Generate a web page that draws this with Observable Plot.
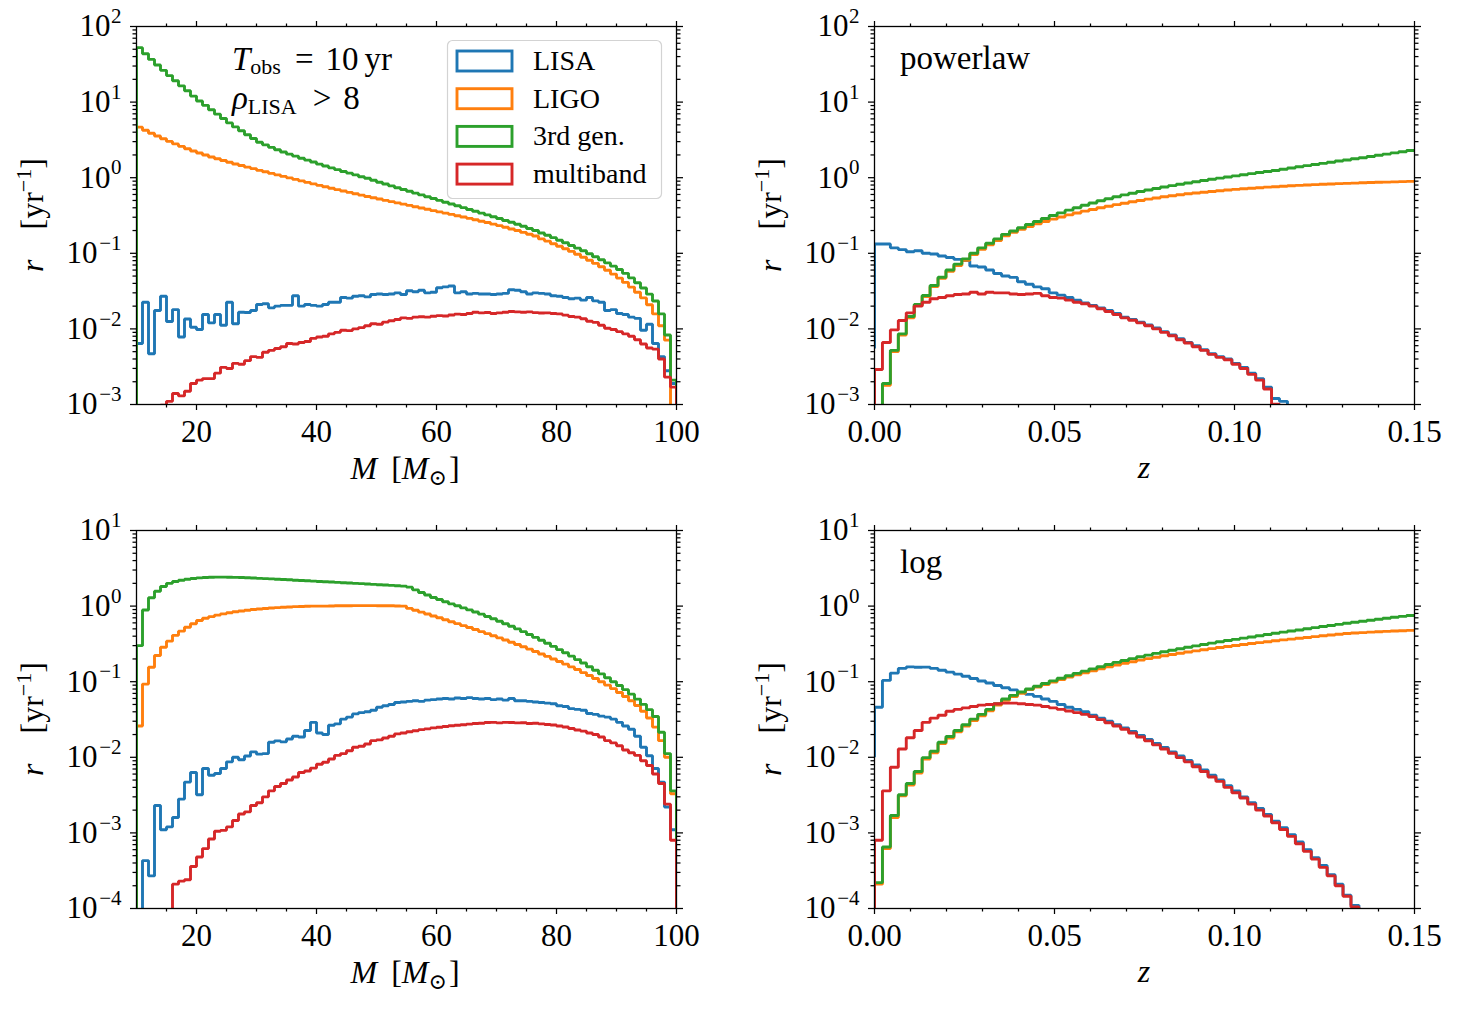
<!DOCTYPE html>
<html><head><meta charset="utf-8">
<script src="https://cdn.jsdelivr.net/npm/d3@7"></script>
<script src="https://cdn.jsdelivr.net/npm/@observablehq/plot@0.6"></script>
<style>
body{margin:0;background:#fff;}
#wrap{position:relative;width:1458px;height:1010px;background:#fff;overflow:hidden;font-family:'Liberation Serif','DejaVu Serif',serif;}
.panel{position:absolute;}
#overlay{position:absolute;left:0;top:0;pointer-events:none;}
</style></head><body><div id="wrap"></div>
<script>
const seriesNames = ["LISA", "LIGO", "3rd gen.", "multiband"];
const seriesColors = ["#1f77b4", "#ff7f0e", "#2ca02c", "#d62728"];

const massRange = [10, 100];
const massBinCount = 90;
const zRange = [0, 0.15];
const zBinCount = 68;

const yTicksTop = [1e-3, 1e-2, 1e-1, 1, 10, 100];
const yExpTop = ["−3", "−2", "−1", "0", "1", "2"];
const yTicksBottom = [1e-4, 1e-3, 1e-2, 1e-1, 1, 10];
const yExpBottom = ["−4", "−3", "−2", "−1", "0", "1"];
const xTicksMass = [20, 40, 60, 80, 100];
const xMinorMass = [15, 25, 30, 35, 45, 50, 55, 65, 70, 75, 85, 90, 95];
const xTicksZ = [0, 0.05, 0.10, 0.15];
const xMinorZ = [0.01, 0.02, 0.03, 0.04, 0.06, 0.07, 0.08, 0.09, 0.11, 0.12, 0.13, 0.14];

// ---- top-left: mass, powerlaw ----
const tlLISA = [0.0064,0.0225,0.0047,0.0175,0.027,0.0125,0.018,0.0078,0.0135,0.0105,
0.0098,0.0155,0.012,0.0155,0.0112,0.0225,0.0117,0.0166,0.0165,0.0175,
0.021,0.0215,0.019,0.020,0.0205,0.0205,0.0275,0.020,0.021,0.0205,
0.020,0.021,0.0225,0.0225,0.026,0.0255,0.027,0.0275,0.0265,0.0285,
0.029,0.0285,0.029,0.030,0.0285,0.032,0.031,0.0325,0.030,0.0305,
0.035,0.036,0.037,0.030,0.031,0.029,0.0295,0.029,0.029,0.0285,
0.029,0.0295,0.033,0.0325,0.031,0.029,0.030,0.0295,0.029,0.0275,
0.027,0.026,0.025,0.0255,0.024,0.026,0.0235,0.0225,0.0175,0.018,
0.016,0.0155,0.0143,0.0138,0.0096,0.0115,0.0064,0.0043,0.0028,0.0019];
const tlLIGO = [4.66,4.25,3.88,3.56,3.27,3.02,2.80,2.60,2.42,2.26,
2.12,2.00,1.88,1.78,1.69,1.60,1.52,1.45,1.38,1.32,
1.25,1.20,1.14,1.09,1.04,0.995,0.951,0.908,0.867,0.828,
0.792,0.759,0.726,0.695,0.667,0.640,0.614,0.589,0.565,0.543,
0.522,0.502,0.483,0.465,0.447,0.430,0.413,0.397,0.382,0.367,
0.353,0.340,0.327,0.314,0.302,0.290,0.278,0.266,0.255,0.243,
0.232,0.221,0.210,0.200,0.189,0.179,0.169,0.155,0.145,0.134,
0.124,0.115,0.106,0.097,0.0887,0.0809,0.0735,0.0664,0.0596,0.0531,
0.0470,0.0412,0.0357,0.0305,0.0257,0.0209,0.0158,0.0110,0.0071,0.0008];
const tl3G = [52.5,43.7,36.7,30.9,26.3,22.4,19.2,16.4,14.1,12.0,
10.35,9.06,7.93,6.93,6.07,5.31,4.70,4.17,3.70,3.30,
2.95,2.72,2.52,2.34,2.19,2.05,1.93,1.81,1.71,1.61,
1.51,1.43,1.35,1.28,1.21,1.15,1.09,1.03,0.982,0.925,
0.871,0.824,0.780,0.738,0.698,0.661,0.625,0.592,0.560,0.530,
0.501,0.474,0.449,0.425,0.402,0.380,0.360,0.340,0.322,0.305,
0.288,0.272,0.257,0.242,0.228,0.213,0.200,0.186,0.173,0.161,
0.149,0.138,0.127,0.117,0.108,0.0986,0.0902,0.0822,0.0746,0.0676,
0.0610,0.0543,0.0473,0.0407,0.0347,0.0288,0.0234,0.0158,0.0083,0.0021];
const tlMulti = [0.0003,0.0004,0.0006,0.0009,0.00098,0.0011,0.0014,0.0013,0.0015,0.0019,
0.0021,0.0022,0.0022,0.0026,0.0031,0.0030,0.0035,0.0034,0.0038,0.0043,
0.0042,0.0049,0.0052,0.0055,0.0058,0.0064,0.0063,0.0066,0.0068,0.0075,
0.0078,0.0080,0.0086,0.0090,0.0096,0.0095,0.0100,0.0104,0.0110,0.0117,
0.0115,0.0123,0.0128,0.0133,0.0140,0.0138,0.0143,0.0145,0.0143,0.0147,
0.0150,0.0148,0.0153,0.0157,0.0155,0.0160,0.0166,0.0163,0.0165,0.0160,
0.0163,0.0166,0.0170,0.0168,0.0166,0.0168,0.0164,0.0162,0.0163,0.0160,
0.0158,0.0152,0.0146,0.0143,0.0136,0.0126,0.0122,0.0112,0.0102,0.0098,
0.0092,0.0086,0.0080,0.0072,0.0063,0.0056,0.0054,0.0040,0.0023,0.0017];

// ---- top-right: redshift, powerlaw ----
const trLISA = [0.133,0.133,0.118,0.112,0.105,0.108,0.100,0.098,0.092,0.088,
0.083,0.080,0.068,0.066,0.060,0.054,0.050,0.048,0.042,0.039,
0.036,0.034,0.030,0.028,0.026,0.024,0.022,0.0205,0.019,0.0175,
0.016,0.0143,0.0133,0.0123,0.0113,0.0103,0.0092,0.0083,0.0074,0.0066,
0.0060,0.0053,0.0047,0.0043,0.0040,0.0035,0.0031,0.0026,0.0022,0.0017,
0.0012,0.0011,0.0007,0.0005,0.00035,0.00025,0.00018,0.00012,0.00008,0.00005,
0.00003,0.00002,0.00001,0.00001,0.00001,0.00001,0.00001,0.00001];
const trLIGO = [0.0004,0.0018,0.005,0.0083,0.014,0.0203,0.0268,0.0362,0.0466,0.058,
0.069,0.081,0.096,0.113,0.13,0.148,0.17,0.19,0.208,0.226,
0.245,0.264,0.283,0.302,0.322,0.342,0.361,0.38,0.40,0.42,
0.44,0.46,0.48,0.50,0.52,0.54,0.56,0.578,0.595,0.612,
0.628,0.643,0.658,0.672,0.686,0.70,0.713,0.726,0.738,0.750,
0.760,0.771,0.782,0.791,0.8,0.809,0.818,0.826,0.834,0.841,
0.849,0.857,0.863,0.869,0.875,0.881,0.887,0.895];
const tr3G = [0.0004,0.0019,0.0052,0.0086,0.0146,0.021,0.0277,0.0375,0.0483,0.060,
0.072,0.0845,0.100,0.118,0.136,0.155,0.178,0.197,0.218,0.240,
0.263,0.288,0.316,0.343,0.372,0.401,0.432,0.462,0.495,0.527,
0.560,0.592,0.624,0.656,0.689,0.721,0.753,0.785,0.818,0.851,
0.885,0.918,0.953,0.986,1.02,1.057,1.094,1.132,1.169,1.208,
1.247,1.294,1.343,1.393,1.445,1.496,1.549,1.603,1.66,1.718,
1.778,1.84,1.905,1.977,2.051,2.128,2.208,2.291];
const trMulti = [0.0029,0.0066,0.0097,0.0129,0.0163,0.020,0.0225,0.025,0.026,0.0275,
0.0285,0.029,0.0305,0.029,0.0305,0.030,0.030,0.029,0.0285,0.029,
0.0295,0.0275,0.026,0.0255,0.024,0.0225,0.0215,0.020,0.0185,0.017,
0.0155,0.014,0.013,0.012,0.011,0.010,0.009,0.0081,0.0072,0.0065,
0.0058,0.0052,0.0046,0.0042,0.0039,0.0034,0.0030,0.0025,0.0021,0.0016,
0.00101,0.0007,0.0005,0.00035,0.00025,0.00018,0.00012,0.00008,0.00005,0.00003,
0.00002,0.00001,0.00001,0.00001,0.00001,0.00001,0.00001,0.00001];

// ---- bottom-left: mass, log ----
const blLISA = [0.00002,0.00043,0.00027,0.0023,0.0011,0.0012,0.0016,0.0028,0.0047,0.0063,
0.0032,0.0071,0.0058,0.0061,0.0071,0.0087,0.010,0.0093,0.0104,0.0118,
0.011,0.0112,0.0158,0.0165,0.0160,0.0175,0.0190,0.0186,0.0226,0.029,
0.021,0.020,0.0265,0.0277,0.032,0.034,0.0375,0.039,0.040,0.042,
0.046,0.048,0.050,0.053,0.054,0.055,0.056,0.055,0.057,0.058,
0.059,0.060,0.059,0.061,0.060,0.0615,0.060,0.059,0.060,0.058,
0.059,0.057,0.060,0.056,0.056,0.055,0.054,0.053,0.052,0.051,
0.048,0.047,0.044,0.043,0.042,0.038,0.037,0.035,0.034,0.032,
0.029,0.026,0.0235,0.019,0.0136,0.0105,0.0071,0.0047,0.0022,0.0011];
const blLIGO = [0.026,0.093,0.155,0.222,0.286,0.344,0.41,0.466,0.526,0.583,
0.645,0.69,0.725,0.76,0.79,0.815,0.84,0.86,0.88,0.90,
0.915,0.93,0.945,0.955,0.965,0.975,0.985,0.99,0.995,1.0,
1.0,1.0,1.005,1.01,1.01,1.01,1.015,1.015,1.015,1.015,
1.01,1.01,1.01,1.005,1.0,0.933,0.881,0.832,0.785,0.741,
0.700,0.661,0.622,0.586,0.552,0.520,0.490,0.460,0.433,0.406,
0.380,0.356,0.333,0.310,0.290,0.270,0.251,0.233,0.216,0.200,
0.185,0.171,0.157,0.145,0.132,0.121,0.110,0.100,0.0902,0.0809,
0.0721,0.0638,0.0560,0.0484,0.0407,0.0331,0.0251,0.0166,0.0100,0.0033];
const bl3G = [0.30,0.89,1.29,1.57,1.82,2.0,2.12,2.2,2.27,2.32,
2.36,2.39,2.41,2.42,2.42,2.41,2.40,2.39,2.37,2.35,
2.33,2.31,2.29,2.27,2.25,2.23,2.20,2.18,2.16,2.14,
2.12,2.10,2.08,2.06,2.04,2.02,2.0,1.98,1.96,1.94,
1.92,1.90,1.88,1.86,1.84,1.78,1.64,1.51,1.40,1.30,
1.22,1.14,1.07,1.01,0.946,0.891,0.836,0.782,0.730,0.679,
0.631,0.585,0.541,0.499,0.459,0.422,0.386,0.353,0.322,0.293,
0.266,0.241,0.218,0.196,0.177,0.158,0.142,0.127,0.113,0.100,
0.0891,0.0785,0.0684,0.0589,0.0501,0.0427,0.0347,0.0214,0.0112,0.0036];
const blMulti = [0.00002,0.00003,0.00004,0.00005,0.00006,0.00008,0.00021,0.00023,0.00024,0.00036,
0.00048,0.00062,0.00083,0.00105,0.00108,0.0012,0.00146,0.00178,0.0019,0.0023,
0.0025,0.0030,0.0036,0.0041,0.0045,0.0050,0.0055,0.0063,0.0066,0.0072,
0.0081,0.0086,0.0095,0.0106,0.0112,0.0122,0.0136,0.0140,0.0150,0.0166,
0.0170,0.0180,0.0190,0.0204,0.0210,0.0218,0.0225,0.0232,0.0238,0.0245,
0.0250,0.0255,0.0262,0.0265,0.0270,0.0275,0.0280,0.0282,0.0288,0.0290,
0.0285,0.0290,0.0288,0.0285,0.0286,0.0280,0.0282,0.0277,0.0272,0.0268,
0.0260,0.0252,0.0240,0.0230,0.0222,0.0210,0.0200,0.0186,0.0166,0.0155,
0.0142,0.0125,0.0115,0.0106,0.0090,0.0078,0.0060,0.0045,0.0024,0.0008];

// ---- bottom-right: redshift, log ----
const brLISA = [0.046,0.104,0.13,0.150,0.157,0.155,0.156,0.150,0.142,0.134,
0.126,0.118,0.110,0.102,0.096,0.089,0.083,0.078,0.072,0.068,
0.064,0.059,0.055,0.050,0.046,0.043,0.040,0.036,0.033,0.030,
0.027,0.0245,0.022,0.0195,0.0172,0.0152,0.0135,0.0118,0.0104,0.0091,
0.0079,0.0068,0.0058,0.005,0.0042,0.0036,0.003,0.0025,0.0021,0.00175,
0.00143,0.00117,0.00095,0.00076,0.0006,0.00047,0.00037,0.00028,0.00021,0.00015,
0.00011,0.00006,0.00003,0.00002,0.00001,0.00001,0.00001,0.00001];
const brLIGO = [0.00021,0.00062,0.0016,0.0031,0.0043,0.0062,0.0095,0.0115,0.0152,0.018,
0.0217,0.026,0.0307,0.0355,0.0413,0.049,0.0566,0.0634,0.070,0.0785,
0.085,0.092,0.099,0.107,0.115,0.123,0.131,0.139,0.148,0.157,
0.166,0.175,0.184,0.193,0.202,0.211,0.220,0.229,0.238,0.247,
0.256,0.265,0.274,0.283,0.292,0.301,0.310,0.320,0.329,0.338,
0.348,0.357,0.366,0.376,0.385,0.395,0.405,0.414,0.424,0.434,
0.440,0.446,0.452,0.458,0.463,0.468,0.473,0.478];
const br3G = [0.00022,0.00065,0.0017,0.0032,0.0045,0.0065,0.0099,0.012,0.0158,0.0188,
0.0226,0.027,0.032,0.037,0.043,0.051,0.059,0.066,0.073,0.080,
0.087,0.0946,0.1026,0.111,0.1197,0.129,0.138,0.148,0.158,0.169,
0.180,0.191,0.202,0.214,0.225,0.237,0.249,0.261,0.273,0.285,
0.298,0.310,0.324,0.337,0.350,0.363,0.377,0.391,0.406,0.421,
0.437,0.452,0.468,0.484,0.501,0.519,0.537,0.555,0.573,0.592,
0.611,0.631,0.650,0.670,0.690,0.711,0.731,0.752];
const brMulti = [0.0008,0.0036,0.0074,0.0129,0.0181,0.0226,0.029,0.033,0.036,0.0407,
0.043,0.045,0.047,0.049,0.050,0.051,0.052,0.052,0.051,0.050,
0.049,0.047,0.045,0.043,0.041,0.039,0.037,0.0345,0.0315,0.0287,
0.026,0.0235,0.021,0.0186,0.0165,0.0146,0.0129,0.0113,0.0099,0.0087,
0.0075,0.0065,0.0055,0.0048,0.004,0.0034,0.0029,0.0024,0.002,0.00167,
0.00136,0.00111,0.0009,0.00072,0.00057,0.00045,0.00035,0.00027,0.0002,0.000145,
0.000105,0.00005,0.00002,0.00001,0.00001,0.00001,0.00001,0.00001];

// starting level of each outline at the left edge (null = from below the axis)
const trStarts = [0.0055, null, null, null];
const brStarts = [0.01, null, null, null];

// ---------- helpers ----------
const FONT = "'Liberation Serif','DejaVu Serif',serif";
function binEdges(range, n) { return d3.range(n + 1).map(i => range[0] + (range[1] - range[0]) * i / n); }
function stepPoints(edges, vals, start, dropEnd) {
  const pts = [{x: edges[0], y: start == null ? 1e-7 : start}];
  vals.forEach((v, i) => pts.push({x: edges[i], y: v}));
  pts.push({x: edges[vals.length], y: vals[vals.length - 1]});
  if (dropEnd) pts.push({x: edges[vals.length], y: 1e-7});
  return pts;
}
function minorLog(domain) {
  const out = [];
  const k0 = Math.round(Math.log10(domain[0])), k1 = Math.round(Math.log10(domain[1]));
  for (let k = k0; k < k1; k++) for (let m = 2; m <= 9; m++) out.push(m * Math.pow(10, k));
  return out;
}
const wrap = document.getElementById("wrap");

function panel(o) {
  const edges = binEdges(o.xDomain, o.bins);
  const labels = o.yTicks.map((v, i) => ({v, e: o.yExp[i], neg: o.yExp[i].startsWith("−")}));
  const marks = [];
  o.series.forEach((vals, i) => {
    marks.push(Plot.line(stepPoints(edges, vals, o.starts[i], o.dropEnd), {
      x: "x", y: "y", curve: "step-after", stroke: seriesColors[i], strokeWidth: 2.9,
      strokeLinejoin: "miter", strokeLinecap: "butt", clip: true
    }));
  });
  const tk = {label: null, strokeWidth: 1.25};
  marks.push(
    Plot.frame({stroke: "black", strokeWidth: 1.3}),
    Plot.axisX({...tk, ticks: o.xTicks, tickSize: 6, tickPadding: 9, tickFormat: o.xFmt, fontSize: 31}),
    Plot.axisX({...tk, anchor: "top", ticks: o.xTicks, tickSize: 6, tickFormat: () => ""}),
    Plot.axisX({...tk, ticks: o.xMinor, tickSize: 3.5, tickFormat: () => ""}),
    Plot.axisX({...tk, anchor: "top", ticks: o.xMinor, tickSize: 3.5, tickFormat: () => ""}),
    Plot.axisY({...tk, ticks: o.yTicks, tickSize: 6, tickFormat: () => ""}),
    Plot.axisY({...tk, anchor: "right", ticks: o.yTicks, tickSize: 6, tickFormat: () => ""}),
    Plot.axisY({...tk, ticks: minorLog(o.yDomain), tickSize: 3.5, tickFormat: () => ""}),
    Plot.axisY({...tk, anchor: "right", ticks: minorLog(o.yDomain), tickSize: 3.5, tickFormat: () => ""}),
    Plot.text(labels.filter(d => !d.neg), {y: "v", text: () => "10", frameAnchor: "left", textAnchor: "end", lineAnchor: "middle", dx: -26, fontSize: 31}),
    Plot.text(labels.filter(d => d.neg), {y: "v", text: () => "10", frameAnchor: "left", textAnchor: "end", lineAnchor: "middle", dx: -39, fontSize: 31}),
    Plot.text(labels, {y: "v", text: "e", frameAnchor: "left", textAnchor: "end", lineAnchor: "middle", dx: -15, dy: -10, fontSize: 21})
  );
  const chart = Plot.plot({
    width: 720, height: 490,
    marginLeft: 136, marginRight: 44, marginTop: 26, marginBottom: 86,
    x: {domain: o.xDomain, label: null},
    y: {type: "log", domain: o.yDomain, label: null},
    style: {fontFamily: FONT, fontSize: "31px", color: "black", background: "transparent", overflow: "visible"},
    marks
  });
  const div = document.createElement("div");
  div.className = "panel";
  div.style.left = o.left + "px";
  div.style.top = o.top + "px";
  div.appendChild(chart);
  wrap.appendChild(div);
}

const fmtMass = d => String(d);
const fmtZ = d3.format(".2f");
const allNull = [null, null, null, null];

panel({left: 0, top: 0, xDomain: massRange, bins: massBinCount, yDomain: [1e-3, 1e2],
  xTicks: xTicksMass, xMinor: xMinorMass, xFmt: fmtMass, yTicks: yTicksTop, yExp: yExpTop,
  series: [tlLISA, tlLIGO, tl3G, tlMulti], starts: allNull, dropEnd: true});
panel({left: 738, top: 0, xDomain: zRange, bins: zBinCount, yDomain: [1e-3, 1e2],
  xTicks: xTicksZ, xMinor: xMinorZ, xFmt: fmtZ, yTicks: yTicksTop, yExp: yExpTop,
  series: [trLISA, trLIGO, tr3G, trMulti], starts: trStarts, dropEnd: false});
panel({left: 0, top: 504, xDomain: massRange, bins: massBinCount, yDomain: [1e-4, 1e1],
  xTicks: xTicksMass, xMinor: xMinorMass, xFmt: fmtMass, yTicks: yTicksBottom, yExp: yExpBottom,
  series: [blLISA, blLIGO, bl3G, blMulti], starts: allNull, dropEnd: true});
panel({left: 738, top: 504, xDomain: zRange, bins: zBinCount, yDomain: [1e-4, 1e1],
  xTicks: xTicksZ, xMinor: xMinorZ, xFmt: fmtZ, yTicks: yTicksBottom, yExp: yExpBottom,
  series: [brLISA, brLIGO, br3G, brMulti], starts: brStarts, dropEnd: false});

// ---------- text overlay: labels, annotations, legend ----------
const ov = d3.select(wrap).append("svg").attr("id", "overlay")
  .attr("width", 1458).attr("height", 1010)
  .style("font-family", FONT).attr("fill", "black");

function yLabel(x, y) {
  const t = ov.append("text").attr("transform", `translate(${x},${y}) rotate(-90)`)
    .attr("text-anchor", "middle").attr("font-size", 32);
  t.append("tspan").attr("font-style", "italic").text("r");
  t.append("tspan").attr("dx", 30).text("[yr");
  t.append("tspan").attr("font-size", 22).attr("dy", -12).text("−1");
  t.append("tspan").attr("dy", 12).text("]");
}
function massLabel(x, y) {
  const t = ov.append("text").attr("x", x).attr("y", y).attr("text-anchor", "middle").attr("font-size", 32);
  t.append("tspan").attr("font-style", "italic").text("M");
  t.append("tspan").attr("dx", 14).text("[");
  t.append("tspan").attr("font-style", "italic").text("M");
  t.append("tspan").attr("font-size", 22).attr("dy", 6).text("⊙");
  t.append("tspan").attr("dy", -6).attr("dx", 2).text("]");
}
function zLabel(x, y) {
  ov.append("text").attr("x", x).attr("y", y).attr("text-anchor", "middle")
    .attr("font-size", 32).attr("font-style", "italic").text("z");
}
yLabel(43, 215); yLabel(781, 215); yLabel(43, 719); yLabel(781, 719);
massLabel(405, 479); massLabel(405, 983);
zLabel(1144, 478); zLabel(1144, 982);

// annotations (two stacked lines in the top-left panel)
const a1 = ov.append("text").attr("x", 232).attr("y", 70).attr("font-size", 33);
a1.append("tspan").attr("font-style", "italic").text("T");
a1.append("tspan").attr("font-size", 22).attr("dy", 4).text("obs");
a1.append("tspan").attr("dy", -4).attr("dx", 14).text("=");
a1.append("tspan").attr("dx", 12).text("10");
a1.append("tspan").attr("dx", 6).text("yr");
const a2 = ov.append("text").attr("x", 232).attr("y", 109).attr("font-size", 33);
a2.append("tspan").attr("font-style", "italic").text("ρ");
a2.append("tspan").attr("font-size", 22).attr("dy", 5).text("LISA");
a2.append("tspan").attr("dy", -5).attr("dx", 16).text(">");
a2.append("tspan").attr("dx", 12).text("8");
ov.append("text").attr("x", 900).attr("y", 69).attr("font-size", 33).text("powerlaw");
ov.append("text").attr("x", 900).attr("y", 573).attr("font-size", 33).text("log");

// legend
const lg = ov.append("g");
lg.append("rect").attr("x", 447.5).attr("y", 40.5).attr("width", 214).attr("height", 158)
  .attr("rx", 5).attr("fill", "white").attr("fill-opacity", 0.8)
  .attr("stroke", "#d3d3d3").attr("stroke-width", 1.2);
seriesNames.forEach((n, i) => {
  const cy = 61 + i * 37.7;
  lg.append("rect").attr("x", 457).attr("y", cy - 10).attr("width", 55).attr("height", 20)
    .attr("fill", "none").attr("stroke", seriesColors[i]).attr("stroke-width", 2.9);
  lg.append("text").attr("x", 533).attr("y", cy + 9).attr("font-size", 28).text(n);
});
</script></body></html>
